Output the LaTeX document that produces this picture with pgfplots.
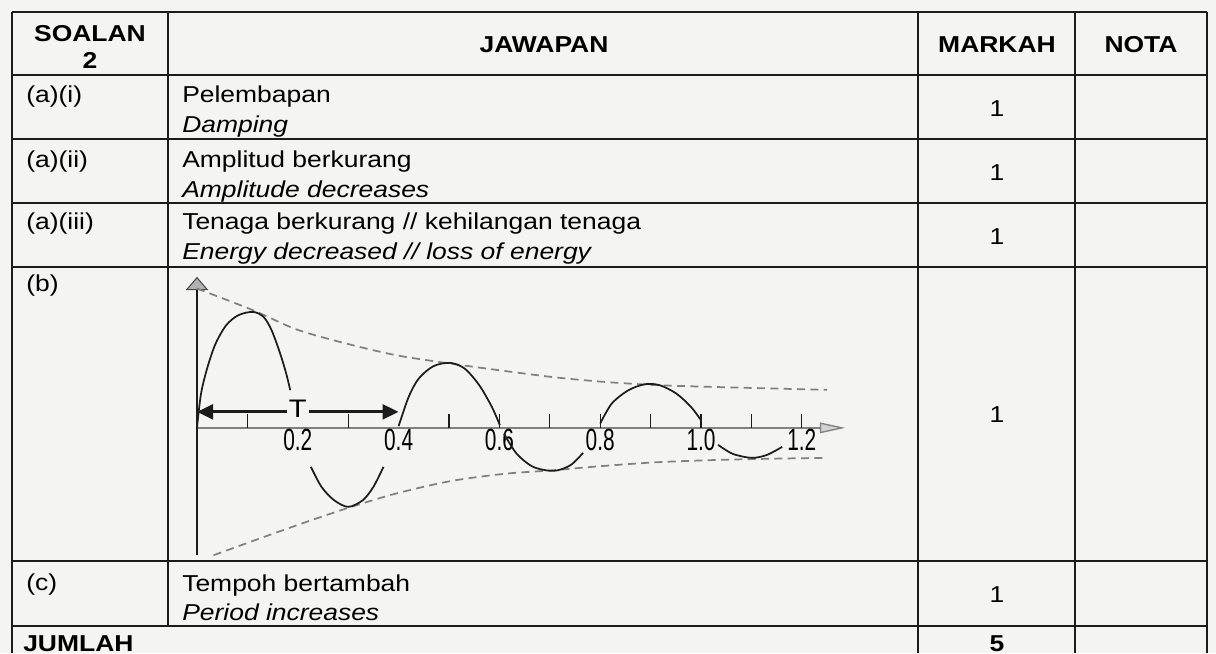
\documentclass[border=0pt]{standalone}
\usepackage{fontspec}
\setmainfont{Liberation Sans}[FakeStretch=1.15]
\newfontfamily\labelfont{Liberation Sans}[FakeStretch=0.68]
\usepackage{pgfplots}
\pgfplotsset{compat=1.18}
\usetikzlibrary{arrows.meta}

\definecolor{paper}{RGB}{244,244,242}
\definecolor{ink}{RGB}{28,28,28}
\definecolor{envgray}{RGB}{128,128,128}
\newcommand\fs{\fontsize{17.25}{20}\selectfont}

\begin{document}
\begin{tikzpicture}
% page in pixel units, y downwards
\begin{axis}[
    name=page, at={(0,0)}, anchor=south west,
    scale only axis, width=912pt, height=489.75pt,
    xmin=0, xmax=1216, ymin=0, ymax=653, y dir=reverse,
    hide axis, clip=false]
\fill[paper] (axis cs:0,0) rectangle (axis cs:1216,653);
% table rules
\pgfplotsinvokeforeach{12,75,139,203,267,561,626}{
  \draw[ink, line width=1.4pt] (axis cs:12,#1) -- (axis cs:1207,#1);}
\pgfplotsinvokeforeach{12,918,1075,1207}{
  \draw[ink, line width=1.4pt] (axis cs:#1,12) -- (axis cs:#1,653);}
\draw[ink, line width=1.4pt] (axis cs:168,12) -- (axis cs:168,626);
% header
\node[anchor=base, inner sep=0pt, font=\fs\bfseries] at (axis cs:90,41) {SOALAN};
\node[anchor=base, inner sep=0pt, font=\fs\bfseries] at (axis cs:90,68) {2};
\node[anchor=base, inner sep=0pt, font=\fs\bfseries] at (axis cs:544,52) {JAWAPAN};
\node[anchor=base, inner sep=0pt, font=\fs\bfseries] at (axis cs:997,52) {MARKAH};
\node[anchor=base, inner sep=0pt, font=\fs\bfseries] at (axis cs:1141,52) {NOTA};
% rows
\node[anchor=base west, inner sep=0pt, font=\fs] at (axis cs:26,102) {(a)(i)};
\node[anchor=base west, inner sep=0pt, font=\fs] at (axis cs:182,102) {Pelembapan};
\node[anchor=base west, inner sep=0pt, font=\fs\itshape] at (axis cs:182,132) {Damping};
\node[anchor=base, inner sep=0pt, font=\fs] at (axis cs:997,116) {1};

\node[anchor=base west, inner sep=0pt, font=\fs] at (axis cs:26,167) {(a)(ii)};
\node[anchor=base west, inner sep=0pt, font=\fs] at (axis cs:182,167) {Amplitud berkurang};
\node[anchor=base west, inner sep=0pt, font=\fs\itshape] at (axis cs:182,197) {Amplitude decreases};
\node[anchor=base, inner sep=0pt, font=\fs] at (axis cs:997,180) {1};

\node[anchor=base west, inner sep=0pt, font=\fs] at (axis cs:26,229) {(a)(iii)};
\node[anchor=base west, inner sep=0pt, font=\fs] at (axis cs:182,229) {Tenaga berkurang // kehilangan tenaga};
\node[anchor=base west, inner sep=0pt, font=\fs\itshape] at (axis cs:182,259) {Energy decreased // loss of energy};
\node[anchor=base, inner sep=0pt, font=\fs] at (axis cs:997,244) {1};

\node[anchor=base west, inner sep=0pt, font=\fs] at (axis cs:26,291) {(b)};
\node[anchor=base, inner sep=0pt, font=\fs] at (axis cs:997,422) {1};

\node[anchor=base west, inner sep=0pt, font=\fs] at (axis cs:26,590) {(c)};
\node[anchor=base west, inner sep=0pt, font=\fs] at (axis cs:182,591) {Tempoh bertambah};
\node[anchor=base west, inner sep=0pt, font=\fs\itshape] at (axis cs:182,620) {Period increases};
\node[anchor=base, inner sep=0pt, font=\fs] at (axis cs:997,602) {1};

\node[anchor=base west, inner sep=0pt, font=\fs\bfseries] at (axis cs:23,651) {JUMLAH};
\node[anchor=base, inner sep=0pt, font=\fs\bfseries] at (axis cs:997,651) {5};

\coordinate (gsw) at (axis cs:197,555.2);
\end{axis}

% the damped oscillation sketch
\begin{axis}[
    at={(gsw)}, anchor=south west,
    x=378pt, y=25pt,
    xmin=0, xmax=1.286, ymin=-3.82, ymax=4.53,
    axis lines=center, clip=false,
    xtick={0.2,0.4,0.6,0.8,1.0,1.2},
    xticklabels={0.2,0.4,0.6,0.8,1.0,1.2},
    ytick=\empty, major tick length=0pt,
    xticklabel style={font={\fontsize{23}{23}\labelfont}, anchor=north, inner sep=0pt, yshift=-1pt},
    x axis line style={draw=envgray, line width=2pt,
        -{Triangle[width=8pt, length=19pt, fill=gray!35, color=envgray, line width=1pt]}},
    y axis line style={draw=ink, line width=0.9pt,
        -{Triangle[width=17pt, length=10pt, fill=gray!60, color=ink!80, line width=0.8pt]}},
]
% envelopes
\addplot[envgray, line width=1.3pt, dash pattern=on 6pt off 4pt, smooth] coordinates {
 (0,4.18) (0.111,3.53) (0.198,2.95) (0.296,2.53) (0.395,2.18) (0.502,1.93)
 (0.609,1.71) (0.708,1.52) (0.799,1.39) (0.901,1.29) (0.996,1.24) (1.12,1.19) (1.25,1.14)};
\addplot[envgray, line width=1.3pt, dash pattern=on 6pt off 4pt, smooth] coordinates {
 (0.033,-3.82) (0.115,-3.37) (0.206,-2.88) (0.30,-2.4) (0.395,-1.97) (0.502,-1.6)
 (0.609,-1.38) (0.708,-1.27) (0.80,-1.15) (0.914,-1.03) (1.037,-0.96) (1.16,-0.92) (1.25,-0.9)};
% ticks above the axis
\addplot[ink, line width=1pt, ycomb, no marks] coordinates {
 (0.1,0.42) (0.3,0.42) (0.5,0.42) (0.6,0.42) (0.7,0.42) (0.8,0.42)
 (0.9,0.42) (1.0,0.42) (1.1,0.42) (1.2,0.42)};
% oscillation, drawn in pieces as in the sketch
\addplot[ink, line width=1.3pt, smooth] coordinates {
 (0,0) (0.008,1.03) (0.021,1.83) (0.037,2.53) (0.058,3.08) (0.082,3.38) (0.111,3.48)
 (0.132,3.33) (0.148,2.93) (0.165,2.23) (0.177,1.63) (0.185,1.13)};
\addplot[ink, line width=1.3pt, smooth] coordinates {
 (0.226,-1.17) (0.247,-1.77) (0.272,-2.17) (0.300,-2.37) (0.329,-2.17) (0.350,-1.77) (0.370,-1.17)};
\addplot[ink, line width=1.3pt, smooth] coordinates {
 (0.40,0.05) (0.420,0.93) (0.440,1.48) (0.469,1.85) (0.502,1.95) (0.531,1.78)
 (0.560,1.28) (0.585,0.63) (0.601,0.08)};
\addplot[ink, line width=1.3pt, smooth] coordinates {
 (0.609,-0.17) (0.634,-0.77) (0.667,-1.17) (0.708,-1.29) (0.741,-1.12) (0.766,-0.75)};
\addplot[ink, line width=1.3pt, smooth] coordinates {
 (0.800,0.13) (0.823,0.73) (0.856,1.13) (0.889,1.31) (0.918,1.28) (0.951,1.03)
 (0.980,0.63) (1.000,0.23)};
\addplot[ink, line width=1.3pt, smooth] coordinates {
 (1.034,-0.51) (1.063,-0.78) (1.101,-0.9) (1.131,-0.81) (1.161,-0.57)};
% period arrow
\addplot[ink, line width=2.2pt,
   {Triangle[width=11pt, length=12pt]}-{Triangle[width=11pt, length=12pt]}]
   coordinates {(0,0.48) (0.4,0.48)};
\node[fill=paper, inner sep=1.5pt, font=\fontsize{19}{19}\selectfont] at (axis cs:0.2,0.57) {T};
\end{axis}
\end{tikzpicture}
\end{document}
